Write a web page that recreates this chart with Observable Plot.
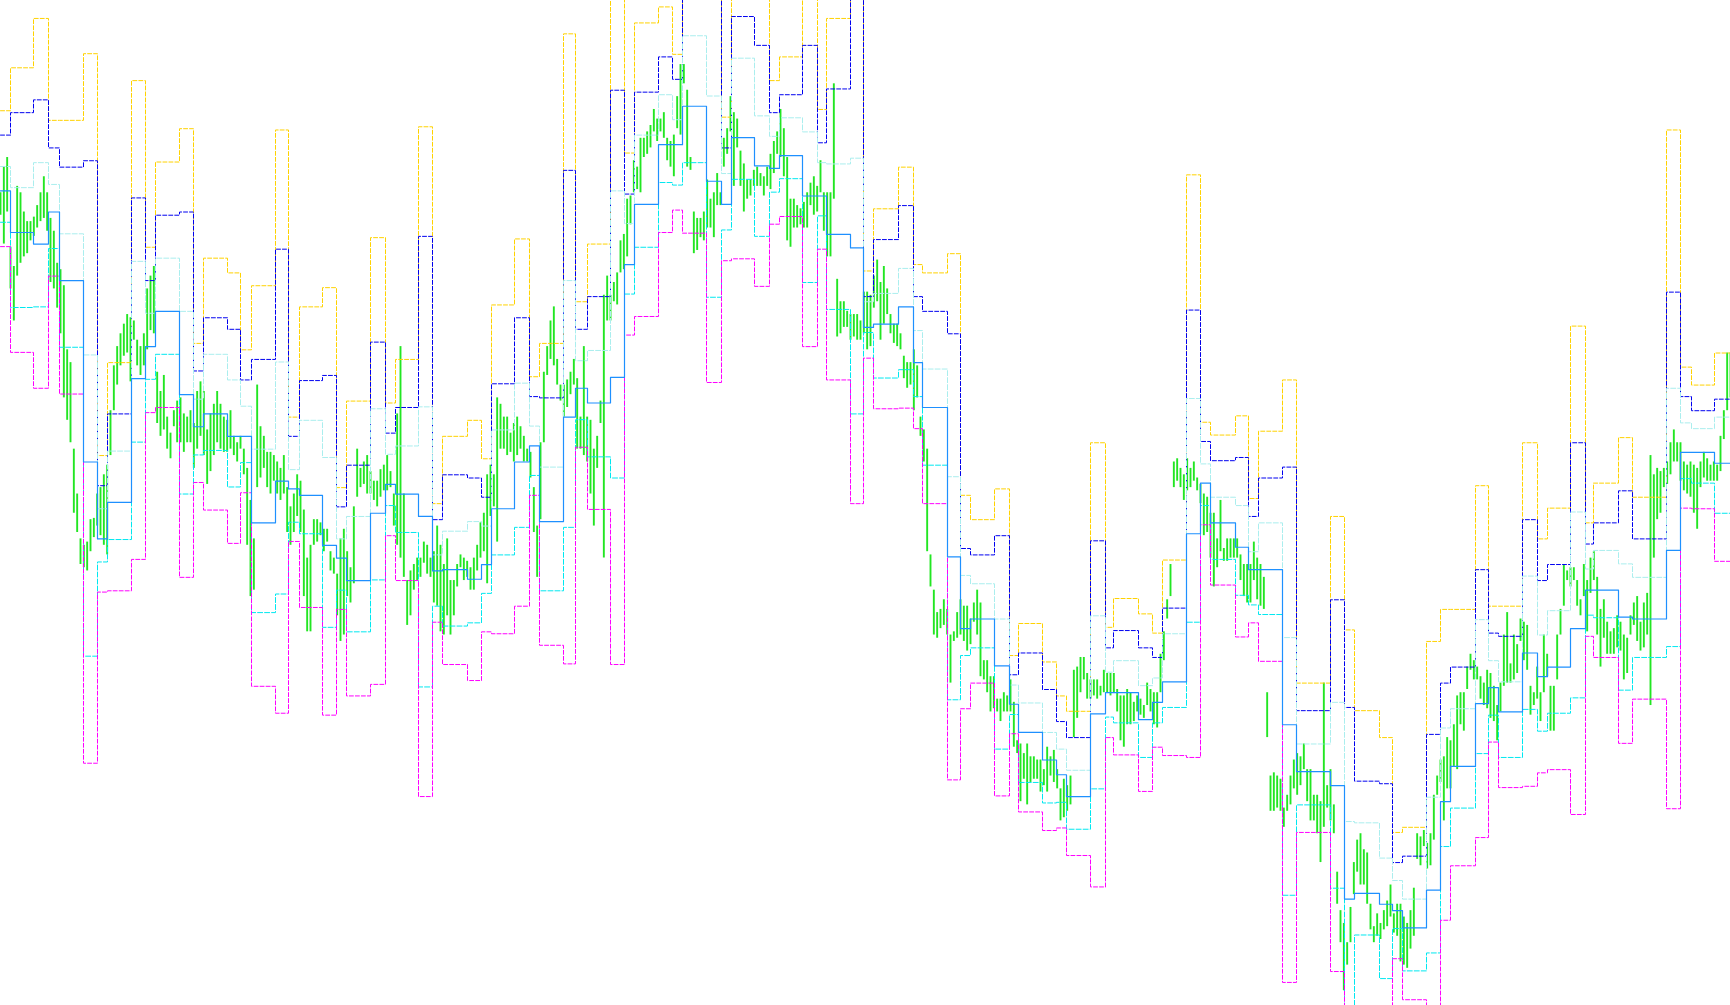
<!DOCTYPE html>
<html>
<head>
<meta charset="utf-8">
<script src="https://cdn.jsdelivr.net/npm/d3@7"></script>
<script src="https://cdn.jsdelivr.net/npm/@observablehq/plot@0.6"></script>
<style>
html, body { margin: 0; padding: 0; background: #ffffff; overflow: hidden; }
#chart svg { display: block; }
</style>
</head>
<body>
<div id="chart"></div>
<script>
// ---- time axis (bar clock) ----
const timeStart = 0;
const timeEnd = 5190;
const barInterval = 10;

// ---- price bars: high / low per bar ----
const barHigh = [
2300,2340,2355,2215,2185,2310,2300,2270,2255,2255,2262,2280,2300,2325,2300,2260,2240,2190,2180,2155,
2055,2035,1900,1830,1760,1750,1755,1790,1792,1830,1840,1860,1875,1960,2030,2060,2080,2095,2110,2105,
2100,2070,2060,2080,2150,2170,2185,2020,1990,2015,1950,1925,1960,1975,1980,1955,1950,1960,1940,1990,
2005,1990,1930,1955,1970,1990,1970,1950,1945,1960,1920,1910,1920,1900,1870,1820,1760,2000,1935,1920,
1895,1895,1890,1880,1870,1890,
1840,1810,1830,1860,1850,1805,1730,1750,1790,1790,1785,1775,1775,1740,1730,1705,1760,1775,1740,1715,
1810,1900,1870,1880,1890,1865,1850,1850,1868,1875,1890,1865,1830,1955,2060,1830,1695,1710,1720,1730,
1730,1755,1750,1730,1740,1780,1750,1720,1760,1695,1695,1720,1735,1730,1725,1715,1730,1750,1785,1800,
1860,1875,1860,1980,1970,1950,1950,1925,1940,1950,1935,1920,1900,1895,1840,1780,1910,2020,2060,2100,
2122,2040,2000,2000,2008,2020,
2040,2010,1950,2060,1950,1945,1900,1920,1975,2140,2170,2140,2160,2175,2225,2235,2290,2295,2350,2340,
2385,2385,2395,2405,2430,2415,2415,2425,2385,2380,2390,2450,2500,2500,2460,2355,2270,2260,2260,2270,
2320,2290,2300,2330,2300,2385,2400,2450,2425,2415,2365,2345,2320,2320,2335,2340,2330,2325,2340,2360,
2380,2395,2430,2400,2355,2290,2290,2280,2275,2285,2300,2315,2325,2310,2350,2300,2300,2300,2470,2165,
2130,2130,2115,2110,2110,2110,
2100,2145,2145,2140,2170,2195,2160,2185,2150,2110,2095,2095,2080,2045,2035,2035,2055,2030,1950,1930,
1900,1735,1680,1645,1650,1665,1650,1610,1615,1645,1665,1655,1655,1635,1660,1680,1660,1570,1570,1545,
1545,1510,1510,1520,1515,1540,1505,1445,1440,1425,1440,1420,1420,1415,1415,1400,1435,1420,1430,1400,
1370,1385,1375,1390,1555,1560,1575,1575,1550,1540,1540,1540,1530,1555,1550,1550,1550,1525,1515,1515,
1525,1520,1505,1515,
1510,1500,1535,1525,1520,1520,1580,1615,1665,1720,1880,1885,1870,1860,1885,1870,1880,1855,1845,1830,
1825,1800,1800,1760,1820,1745,1760,1760,1760,1760,1735,1720,1720,1720,1755,1730,1720,1700,1520,1390,
1395,1390,1385,1340,1360,1390,1415,1425,1420,1440,1400,1400,1360,1360,1350,1535,1375,1400,1345,1240,
1180,1160,1130,1185,1255,1290,1300,1275,1270,1190,1155,1175,1160,1180,1195,1220,1175,1190,1190,1170,
1160,1180,1215,1300,1295,1305,
1285,1300,1360,1390,1415,1420,1450,1445,1470,1515,1520,1520,1560,1580,1570,1560,1545,1535,1555,1550,
1530,1500,1535,1610,1645,1565,1610,1595,1635,1630,1625,1530,1520,1560,1520,1610,1580,1530,1530,1610,
1650,1720,1710,1715,1715,1695,1665,1720,1695,1730,1740,1700,1650,1665,1630,1615,1620,1640,1630,1610,
1605,1640,1660,1670,1630,1660,1675,1890,1860,1870,1865,1870,1880,1910,1930,1910,1910,1880,1875,1880,
1875,1870,1880,1895,1885,1875,1880,1875,1920,1960,2050,2050
];
const barLow = [
2265,2220,2270,2150,2100,2170,2190,2200,2205,2225,2232,2245,2255,2260,2240,2160,2150,2120,2080,1980,
1945,1910,1800,1770,1720,1715,1710,1740,1762,1780,1765,1750,1735,1890,1960,2000,2030,2045,2050,2005,
2070,2030,2015,2030,2055,2085,2080,1940,1920,1930,1900,1885,1935,1910,1910,1895,1910,1910,1870,1900,
1920,1890,1845,1865,1890,1910,1900,1895,1895,1900,1890,1880,1900,1860,1750,1670,1680,1840,1855,1870,
1840,1830,1850,1830,1820,1830,
1770,1750,1770,1795,1770,1670,1615,1615,1750,1755,1765,1740,1755,1710,1705,1640,1600,1610,1670,1660,
1690,1825,1840,1845,1830,1830,1820,1810,1825,1835,1835,1840,1780,1750,1730,1700,1625,1640,1680,1695,
1700,1722,1705,1700,1660,1655,1615,1610,1640,1610,1640,1685,1715,1695,1700,1680,1680,1710,1730,1740,
1690,1795,1810,1755,1900,1900,1890,1895,1880,1890,1900,1880,1880,1855,1770,1700,1790,1910,2015,2040,
2030,2000,1975,1950,1965,1985,
2000,1900,1900,1890,1880,1830,1780,1870,1940,1730,2100,2100,2130,2125,2175,2180,2200,2250,2300,2305,
2300,2355,2360,2370,2395,2380,2395,2385,2350,2340,2325,2400,2390,2470,2340,2335,2205,2210,2230,2225,
2245,2245,2230,2280,2280,2340,2360,2395,2310,2370,2310,2270,2290,2295,2310,2310,2310,2295,2310,2305,
2330,2360,2355,2325,2225,2215,2245,2245,2250,2245,2245,2280,2265,2270,2300,2240,2200,2200,2290,2075,
2080,2090,2090,2070,2075,2070,
2070,2080,2055,2060,2120,2130,2070,2095,2110,2080,2065,2060,2055,2010,1995,2000,1960,1980,1920,1880,
1740,1685,1610,1605,1620,1625,1610,1535,1600,1605,1610,1600,1585,1595,1630,1610,1545,1540,1520,1490,
1495,1490,1475,1490,1490,1490,1435,1425,1350,1385,1345,1380,1385,1385,1365,1375,1365,1390,1380,1370,
1320,1325,1335,1345,1450,1480,1520,1540,1510,1510,1515,1510,1515,1520,1520,1515,1520,1490,1445,1435,
1470,1470,1475,1490,
1485,1480,1500,1490,1470,1465,1520,1570,1635,1670,1840,1850,1840,1820,1835,1840,1850,1835,1815,1765,
1770,1730,1685,1715,1740,1725,1725,1730,1730,1730,1695,1670,1660,1660,1695,1665,1655,1650,1450,1335,
1335,1340,1335,1310,1335,1345,1370,1360,1375,1400,1350,1320,1320,1300,1255,1310,1340,1320,1300,1190,
1130,1055,1095,1130,1205,1240,1220,1220,1190,1150,1130,1140,1135,1150,1155,1170,1145,1140,1100,1095,
1090,1120,1140,1260,1250,1280,
1245,1250,1290,1360,1380,1320,1370,1370,1405,1400,1470,1460,1525,1555,1540,1540,1510,1500,1495,1480,
1475,1445,1490,1530,1535,1535,1540,1550,1600,1570,1555,1485,1500,1510,1475,1520,1545,1460,1460,1540,
1610,1655,1695,1685,1695,1655,1640,1670,1615,1675,1695,1610,1560,1605,1580,1580,1580,1590,1585,1540,
1550,1610,1625,1600,1585,1590,1610,1500,1730,1790,1800,1840,1845,1860,1880,1880,1850,1835,1830,1825,
1800,1775,1840,1855,1850,1850,1850,1850,1865,1915,1960,1980
];

// ---- pivot periods: start time of each period and its levels ----
const periodStart = [
0,30,99,144,177,249,291,321,393,435,465,537,579,609,681,720,753,825,864,897,
966,1008,1038,1110,1155,1185,1254,1296,1326,1401,1443,1473,1542,1587,1617,1689,1725,1761,1830,1872,
1902,1974,2016,2046,2118,2163,2193,2262,2307,2337,2406,2451,2478,2550,2589,2619,2694,2739,2766,2841,
2880,2910,2982,3027,3054,3126,3168,3198,3270,3315,3339,3414,3456,3486,3558,3600,3630,3705,3744,3774,
3846,3888,3990,4032,4062,4137,4176,4206,4278,4320,4350,4425,4464,4494,4566,4611,4641,4710,4755,4779,
4854,4896,4998,5040,5073,5142
];
const pivotP = [
2303,2238,2220,2270,2163,1880,1760,1817,2010,2060,2115,1985,1935,1955,1920,1920,1785,1850,1838,1828,
1750,1730,1695,1800,1845,1830,1795,1710,1712,1697,1720,1807,1880,1905,1787,1950,1995,1972,2012,2188,
2282,2375,2375,2435,2318,2282,2386,2342,2338,2358,2295,2295,2235,2214,2090,2095,2122,2035,1965,1732,
1620,1635,1562,1502,1458,1415,1392,1358,1487,1520,1520,1478,1505,1537,1768,1847,1785,1747,1712,1712,
1470,1397,1375,1198,1207,1190,1180,1153,1212,1350,1405,1503,1528,1490,1582,1545,1560,1620,1680,1680,
1638,1635,1742,1895,1895,1878
];
const pivotR1 = [
2341,2308,2347,2313,2236,2047,1807,1897,2193,2112,2198,2115,1978,2048,2008,1967,1900,2036,1868,1945,
1887,1760,1795,1963,1892,1905,1966,1735,1772,1787,1780,1930,2003,1936,1872,2163,2038,2054,2303,2252,
2390,2453,2414,2545,2451,2330,2510,2420,2388,2417,2395,2347,2345,2354,2130,2143,2182,2085,2025,1857,
1703,1690,1635,1532,1504,1458,1432,1399,1640,1552,1570,1531,1543,1612,1979,1877,1825,1812,1740,1785,
1606,1440,1505,1319,1317,1262,1227,1198,1357,1465,1495,1634,1570,1537,1702,1610,1648,1802,1713,1742,
1721,1700,1995,1941,1932,1950
];
const pivotR2 = [
2390,2425,2445,2370,2340,2350,1843,1955,2292,2163,2265,2270,2022,2105,2087,2008,2040,2212,1920,2007,
2015,1810,1875,2067,1925,1965,2232,1790,1860,1855,1825,2002,2105,1982,1980,2335,2087,2138,2460,2298,
2457,2512,2477,2633,2632,2370,2575,2530,2425,2453,2530,2378,2462,2613,2138,2227,2280,2138,2115,2080,
1745,1735,1765,1548,1582,1525,1475,1450,1757,1590,1617,1590,1575,1652,2117,1912,1882,1887,1795,1855,
1872,1492,1665,1497,1382,1378,1255,1265,1455,1535,1560,1712,1613,1608,1790,1695,1720,1910,1752,1785,
1835,1760,2145,1982,1960,1978
];
const pivotR3 = [
2428,2495,2572,2413,2413,2517,1890,2035,2475,2215,2348,2400,2065,2198,2175,2055,2155,2398,1950,2122,
2152,1840,1975,2230,1972,2040,2403,1815,1920,1945,1885,2125,2228,2013,2065,2548,2130,2220,2751,2362,
2565,2590,2516,2743,2765,2418,2699,2608,2475,2512,2630,2430,2572,2753,2178,2275,2340,2188,2175,2205,
1828,1790,1838,1578,1628,1568,1515,1491,1910,1622,1667,1643,1613,1727,2328,1942,1922,1952,1823,1928,
2008,1535,1795,1618,1492,1450,1302,1310,1600,1650,1650,1843,1655,1655,1910,1760,1808,2092,1785,1847,
1918,1825,2398,2028,2000,2050
];
const pivotS1 = [
2254,2121,2122,2213,2059,1577,1724,1759,1911,2009,2048,1830,1891,1898,1841,1879,1645,1674,1786,1768,
1622,1680,1615,1696,1812,1770,1529,1655,1624,1629,1675,1735,1778,1859,1679,1778,1946,1888,1855,2142,
2215,2316,2312,2347,2137,2242,2321,2232,2301,2322,2160,2264,2118,1955,2082,2011,2024,1982,1875,1509,
1578,1590,1432,1486,1380,1348,1349,1307,1370,1482,1473,1419,1473,1497,1630,1812,1728,1672,1657,1642,
1204,1345,1215,1020,1142,1074,1152,1086,1114,1280,1340,1425,1485,1419,1494,1460,1488,1512,1641,1637,
1524,1575,1592,1854,1847,1800
];
const pivotS2 = [
2216,2051,1995,2170,1986,1410,1677,1679,1728,1957,1965,1700,1848,1805,1753,1832,1530,1488,1756,1653,
1485,1650,1515,1533,1765,1695,1358,1630,1564,1539,1615,1612,1655,1828,1594,1565,1903,1806,1564,2078,
2107,2238,2273,2237,2004,2194,2197,2154,2251,2263,2060,2212,2008,1815,2042,1963,1964,1932,1815,1384,
1495,1535,1359,1456,1334,1305,1309,1266,1217,1450,1423,1366,1435,1422,1419,1782,1688,1607,1629,1569,
1068,1302,1085,899,1032,1002,1105,1041,969,1165,1250,1294,1443,1372,1374,1395,1400,1330,1608,1575,
1441,1510,1339,1808,1807,1725
];

// ---- build tables for the library ----
const bars = barHigh.map((h, i) => ({t: timeStart + i * barInterval, high: h, low: barLow[i]}));

function stepTable(values) {
  const rows = periodStart.map((t, i) => ({t, v: values[i]}));
  rows.push({t: timeEnd, v: values[values.length - 1]});
  return rows;
}

const levels = [
  {name: "R3", values: pivotR3, color: "#ffd200", dash: "4,2", width: 1},
  {name: "R2", values: pivotR2, color: "#0000f0", dash: "4,2", width: 1},
  {name: "R1", values: pivotR1, color: "#aaeeee", dash: "5,2", width: 1},
  {name: "S1", values: pivotS1, color: "#00e8f0", dash: "5,2", width: 1},
  {name: "S2", values: pivotS2, color: "#ff00ff", dash: "4,2", width: 1},
  {name: "P",  values: pivotP,  color: "#1e90ff", dash: null, width: 1.2}
];

const chart = Plot.plot({
  width: 1730,
  height: 1005,
  margin: 0,
  x: {domain: [timeStart, timeEnd], axis: null},
  y: {domain: [1032, 2600], axis: null},
  style: {background: "#ffffff"},
  marks: [
    Plot.ruleX(bars, {x: "t", y1: "low", y2: "high", stroke: "#22e622", strokeWidth: 1.9, clip: true}),
    ...levels.map(l => Plot.line(stepTable(l.values), {
      x: "t", y: "v", curve: "step-after",
      stroke: l.color, strokeWidth: l.width,
      strokeDasharray: l.dash || undefined,
      clip: true
    }))
  ]
});
document.getElementById("chart").appendChild(chart);
</script>
</body>
</html>
